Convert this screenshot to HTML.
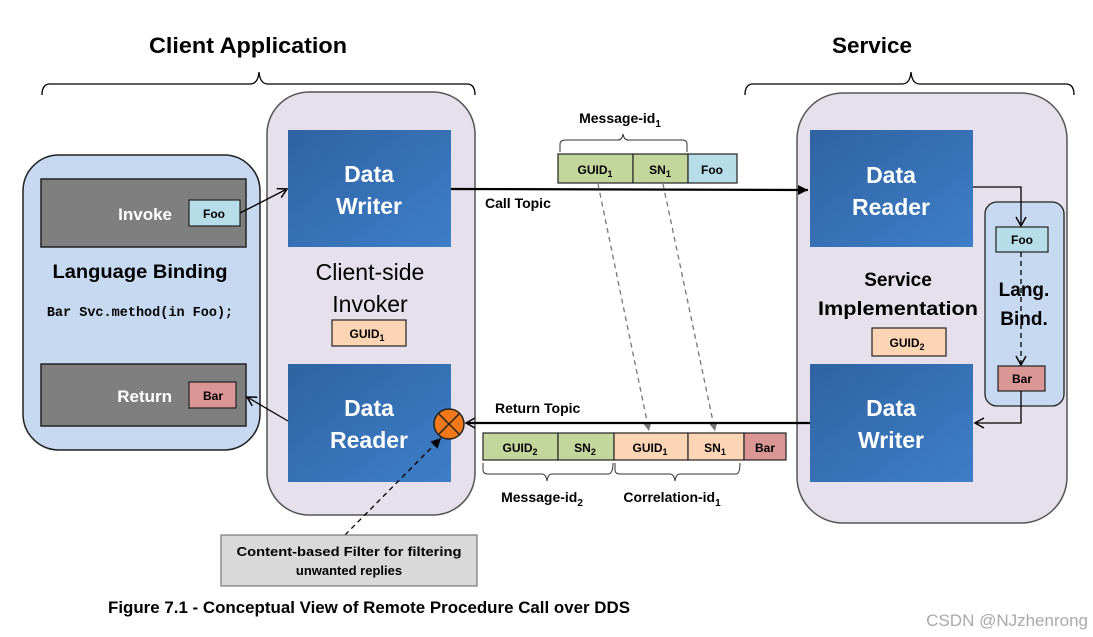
<!DOCTYPE html>
<html><head><meta charset="utf-8"><style>
html,body{margin:0;padding:0;background:#fff;}
svg{display:block;}
text{font-family:"Liberation Sans",sans-serif;}
.b{font-weight:bold;}
</style></head><body>
<svg width="1093" height="637" viewBox="0 0 1093 637" xmlns="http://www.w3.org/2000/svg">
<defs>
<marker id="ah" markerWidth="12" markerHeight="12" refX="10" refY="6" orient="auto" markerUnits="userSpaceOnUse"><path d="M1,1 L10,6 L1,11" fill="none" stroke="#000" stroke-width="1.5"/></marker>
<marker id="af" markerWidth="12" markerHeight="12" refX="10" refY="6" orient="auto" markerUnits="userSpaceOnUse"><path d="M0,1 L10,6 L0,11 Z" fill="#000"/></marker>
<marker id="ag" markerWidth="10" markerHeight="10" refX="8" refY="5" orient="auto" markerUnits="userSpaceOnUse"><path d="M0,1 L8,5 L0,9 Z" fill="#777"/></marker>
<linearGradient id="bl" x1="0" y1="0" x2="1" y2="1"><stop offset="0" stop-color="#2f63a2"/><stop offset="1" stop-color="#3e7ec8"/></linearGradient>
</defs>

<!-- titles -->
<text x="248" y="53" font-size="22" class="b" text-anchor="middle" textLength="198" lengthAdjust="spacingAndGlyphs">Client Application</text>
<text x="872" y="53" font-size="22" class="b" text-anchor="middle" textLength="80" lengthAdjust="spacingAndGlyphs">Service</text>
<path d="M42,95 Q42,84 50,84 L250,84 Q258,84 259,72 Q260,84 268,84 L467,84 Q475,84 475,95" fill="none" stroke="#000" stroke-width="1.3"/>
<path d="M745,95 Q745,84 753,84 L902,84 Q910,84 911,72 Q912,84 920,84 L1066,84 Q1074,84 1074,95" fill="none" stroke="#000" stroke-width="1.3"/>

<!-- language binding -->
<rect x="23" y="155" width="237" height="295" rx="36" fill="#c6d9f1" stroke="#222" stroke-width="1.5"/>
<rect x="41" y="179" width="205" height="68" fill="#7f7f7f" stroke="#222" stroke-width="1.5"/>
<text x="172" y="220" font-size="17" class="b" fill="#fff" text-anchor="end">Invoke</text>
<rect x="189" y="200" width="51" height="26" fill="#b7dee8" stroke="#222" stroke-width="1.2"/>
<text x="214" y="218" font-size="12" class="b" text-anchor="middle">Foo</text>
<text x="140" y="278" font-size="19" class="b" text-anchor="middle" textLength="175" lengthAdjust="spacingAndGlyphs">Language Binding</text>
<text x="140" y="316" font-size="13.5" class="b" text-anchor="middle" style="font-family:'Liberation Mono',monospace">Bar Svc.method(in Foo);</text>
<rect x="41" y="364" width="205" height="62" fill="#7f7f7f" stroke="#222" stroke-width="1.5"/>
<text x="172" y="402" font-size="17" class="b" fill="#fff" text-anchor="end">Return</text>
<rect x="189" y="382" width="47" height="26" fill="#d99694" stroke="#222" stroke-width="1.2"/>
<text x="213" y="400" font-size="12" class="b" text-anchor="middle">Bar</text>

<!-- client invoker -->
<rect x="267" y="92" width="208" height="423" rx="42" fill="#e5e0ec" stroke="#555" stroke-width="1.5"/>
<rect x="288" y="130" width="163" height="117" fill="url(#bl)"/>
<text x="369" y="182" font-size="23" class="b" fill="#fff" text-anchor="middle">Data</text>
<text x="369" y="214" font-size="23" class="b" fill="#fff" text-anchor="middle">Writer</text>
<text x="370" y="280" font-size="23" text-anchor="middle">Client-side</text>
<text x="370" y="312" font-size="23" text-anchor="middle">Invoker</text>
<rect x="332" y="320" width="74" height="26" fill="#fcd5b5" stroke="#222" stroke-width="1.2"/>
<text x="367" y="338" font-size="12" class="b" text-anchor="middle">GUID<tspan font-size="9" dy="3">1</tspan></text>
<rect x="288" y="364" width="163" height="118" fill="url(#bl)"/>
<text x="369" y="416" font-size="23" class="b" fill="#fff" text-anchor="middle">Data</text>
<text x="369" y="448" font-size="23" class="b" fill="#fff" text-anchor="middle">Reader</text>

<line x1="240" y1="213" x2="287" y2="189" stroke="#000" stroke-width="1.3" marker-end="url(#ah)"/>
<line x1="288" y1="421" x2="247" y2="397" stroke="#000" stroke-width="1.3" marker-end="url(#ah)"/>

<!-- service -->
<rect x="797" y="93" width="270" height="430" rx="46" fill="#e5e0ec" stroke="#555" stroke-width="1.5"/>
<rect x="810" y="130" width="163" height="117" fill="url(#bl)"/>
<text x="891" y="183" font-size="23" class="b" fill="#fff" text-anchor="middle">Data</text>
<text x="891" y="215" font-size="23" class="b" fill="#fff" text-anchor="middle">Reader</text>
<text x="898" y="286" font-size="19" class="b" text-anchor="middle">Service</text>
<text x="898" y="315" font-size="19" class="b" text-anchor="middle" textLength="160" lengthAdjust="spacingAndGlyphs">Implementation</text>
<rect x="872" y="328" width="74" height="28" fill="#fcd5b5" stroke="#222" stroke-width="1.2"/>
<text x="907" y="347" font-size="12" class="b" text-anchor="middle">GUID<tspan font-size="9" dy="3">2</tspan></text>
<rect x="810" y="364" width="163" height="118" fill="url(#bl)"/>
<text x="891" y="416" font-size="23" class="b" fill="#fff" text-anchor="middle">Data</text>
<text x="891" y="448" font-size="23" class="b" fill="#fff" text-anchor="middle">Writer</text>

<rect x="985" y="202" width="79" height="204" rx="12" fill="#c6d9f1" stroke="#222" stroke-width="1.3"/>
<text x="1024" y="296" font-size="19" class="b" text-anchor="middle">Lang.</text>
<text x="1024" y="325" font-size="19" class="b" text-anchor="middle">Bind.</text>
<polyline points="973,187 1021,187 1021,226" fill="none" stroke="#000" stroke-width="1.3" marker-end="url(#ah)"/>
<rect x="996" y="227" width="52" height="25" fill="#b7dee8" stroke="#222" stroke-width="1.2"/>
<text x="1022" y="244" font-size="12" class="b" text-anchor="middle">Foo</text>
<line x1="1021" y1="252" x2="1021" y2="365" stroke="#000" stroke-width="1.3" stroke-dasharray="5,4" marker-end="url(#ah)"/>
<rect x="998" y="366" width="47" height="25" fill="#d99694" stroke="#222" stroke-width="1.2"/>
<text x="1022" y="383" font-size="12" class="b" text-anchor="middle">Bar</text>
<polyline points="1021,391 1021,423 975,423" fill="none" stroke="#000" stroke-width="1.3" marker-end="url(#ah)"/>

<!-- call topic -->
<text x="620" y="123" font-size="14" class="b" text-anchor="middle">Message-id<tspan font-size="10" dy="4">1</tspan></text>
<path d="M560,152 L560,144 Q560,140 566,140 L618,140 Q622,140 623,134 Q624,140 628,140 L682,140 Q687,140 687,144 L687,152" fill="none" stroke="#333" stroke-width="1"/>
<rect x="558" y="154" width="75" height="29" fill="#c3d69b" stroke="#222" stroke-width="1.2"/>
<rect x="633" y="154" width="55" height="29" fill="#c3d69b" stroke="#222" stroke-width="1.2"/>
<rect x="688" y="154" width="49" height="29" fill="#b7dee8" stroke="#222" stroke-width="1.2"/>
<text x="595" y="174" font-size="12" class="b" text-anchor="middle">GUID<tspan font-size="9" dy="3">1</tspan></text>
<text x="660" y="174" font-size="12" class="b" text-anchor="middle">SN<tspan font-size="9" dy="3">1</tspan></text>
<text x="712" y="174" font-size="12" class="b" text-anchor="middle">Foo</text>
<line x1="451" y1="189" x2="808" y2="190" stroke="#000" stroke-width="2.2" marker-end="url(#af)"/>
<text x="485" y="208" font-size="14" class="b">Call Topic</text>

<line x1="598" y1="184" x2="649" y2="431" stroke="#777" stroke-width="1.3" stroke-dasharray="5,4" marker-end="url(#ag)"/>
<line x1="663" y1="184" x2="715" y2="431" stroke="#777" stroke-width="1.3" stroke-dasharray="5,4" marker-end="url(#ag)"/>

<!-- return topic -->
<line x1="810" y1="423" x2="466" y2="423" stroke="#000" stroke-width="2.2" marker-end="url(#ah)"/>
<text x="495" y="413" font-size="14" class="b">Return Topic</text>
<rect x="483" y="433" width="75" height="27" fill="#c3d69b" stroke="#222" stroke-width="1.2"/>
<rect x="558" y="433" width="56" height="27" fill="#c3d69b" stroke="#222" stroke-width="1.2"/>
<rect x="614" y="433" width="74" height="27" fill="#fcd5b5" stroke="#222" stroke-width="1.2"/>
<rect x="688" y="433" width="56" height="27" fill="#fcd5b5" stroke="#222" stroke-width="1.2"/>
<rect x="744" y="433" width="42" height="27" fill="#d99694" stroke="#222" stroke-width="1.2"/>
<text x="520" y="452" font-size="12" class="b" text-anchor="middle">GUID<tspan font-size="9" dy="3">2</tspan></text>
<text x="585" y="452" font-size="12" class="b" text-anchor="middle">SN<tspan font-size="9" dy="3">2</tspan></text>
<text x="650" y="452" font-size="12" class="b" text-anchor="middle">GUID<tspan font-size="9" dy="3">1</tspan></text>
<text x="715" y="452" font-size="12" class="b" text-anchor="middle">SN<tspan font-size="9" dy="3">1</tspan></text>
<text x="765" y="452" font-size="12" class="b" text-anchor="middle">Bar</text>
<path d="M483,463 L483,470 Q483,474 488,474 L542,474 Q546,474 547,481 Q548,474 552,474 L608,474 Q613,474 613,463" fill="none" stroke="#333" stroke-width="1"/>
<path d="M615,463 L615,470 Q615,474 620,474 L670,474 Q674,474 675,481 Q676,474 680,474 L736,474 Q740,474 740,463" fill="none" stroke="#333" stroke-width="1"/>
<text x="542" y="502" font-size="14" class="b" text-anchor="middle">Message-id<tspan font-size="10" dy="4">2</tspan></text>
<text x="672" y="502" font-size="14" class="b" text-anchor="middle">Correlation-id<tspan font-size="10" dy="4">1</tspan></text>

<!-- filter circle -->
<circle cx="449" cy="424" r="15" fill="#f07818" stroke="#222" stroke-width="1.5"/>
<line x1="438" y1="413" x2="460" y2="435" stroke="#222" stroke-width="1.5"/>
<line x1="460" y1="413" x2="438" y2="435" stroke="#222" stroke-width="1.5"/>
<line x1="345" y1="535" x2="441" y2="438" stroke="#000" stroke-width="1.3" stroke-dasharray="5,4" marker-end="url(#af)"/>
<rect x="221" y="535" width="256" height="51" fill="#d9d9d9" stroke="#777" stroke-width="1.2"/>
<text x="349" y="556" font-size="13" class="b" text-anchor="middle" textLength="225" lengthAdjust="spacingAndGlyphs">Content-based Filter for filtering</text>
<text x="349" y="575" font-size="13" class="b" text-anchor="middle">unwanted replies</text>

<!-- caption -->
<text x="108" y="613" font-size="16.5" class="b" textLength="522" lengthAdjust="spacingAndGlyphs">Figure 7.1 - Conceptual View of Remote Procedure Call over DDS</text>
<text x="1088" y="626" font-size="17" fill="#aaa" text-anchor="end">CSDN @NJzhenrong</text>
</svg>
</body></html>
